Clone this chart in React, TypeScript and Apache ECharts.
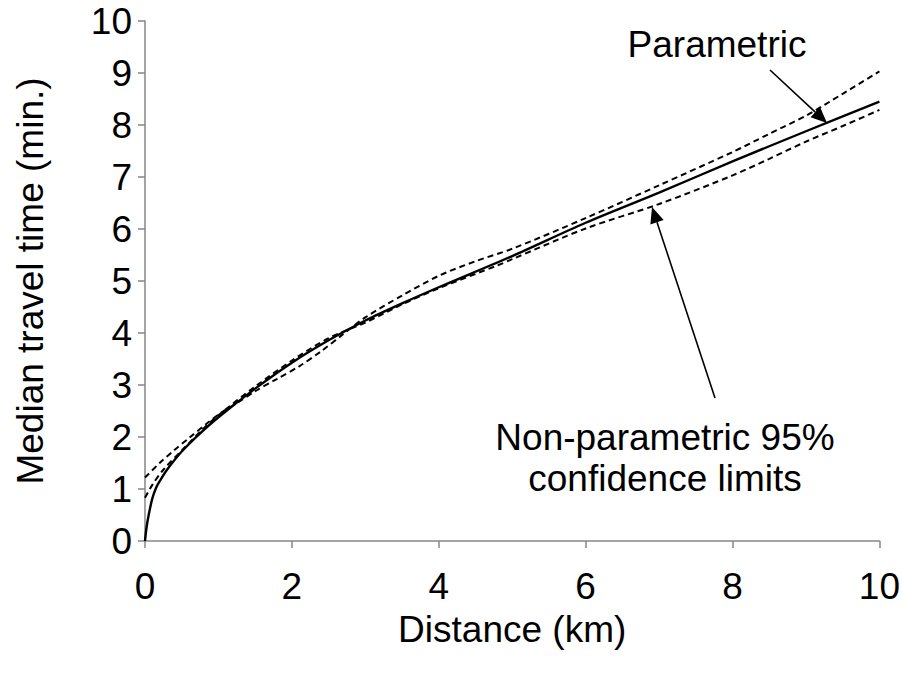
import React, { useEffect, useRef } from "react";
import * as echarts from "echarts";

const xTicks = [0, 2, 4, 6, 8, 10];
const yTicks = [0, 1, 2, 3, 4, 5, 6, 7, 8, 9, 10];

const parametricX = [0, 0.02, 0.05, 0.1, 0.15, 0.2, 0.3, 0.5, 0.75, 1, 1.5, 2, 2.5, 3, 3.5, 4, 5, 6, 7, 8, 9, 10];
const parametricY = [0, 0.25, 0.5, 0.82, 1.02, 1.15, 1.37, 1.72, 2.07, 2.38, 2.93, 3.43, 3.86, 4.24, 4.57, 4.88, 5.48, 6.12, 6.7, 7.3, 7.88, 8.45];

const limitAX = [0, 0.2, 0.4, 0.6, 0.85, 1.05, 1.25, 1.5, 1.8, 2.1, 2.4, 2.7, 3, 3.5, 4, 4.5, 5, 6, 7, 8, 8.5, 9, 9.5, 10];
const limitAY = [1.22, 1.5, 1.75, 1.98, 2.27, 2.48, 2.65, 2.88, 3.12, 3.36, 3.65, 3.98, 4.3, 4.72, 5.1, 5.38, 5.62, 6.21, 6.84, 7.48, 7.83, 8.18, 8.6, 9.03];

const limitBX = [0, 0.1, 0.25, 0.5, 0.75, 1, 1.5, 2, 2.5, 3, 3.5, 4, 4.8, 5, 6, 7, 8, 8.5, 9, 9.5, 10];
const limitBY = [0.83, 1.08, 1.37, 1.74, 2.1, 2.42, 2.97, 3.47, 3.9, 4.2, 4.55, 4.86, 5.3, 5.42, 6.01, 6.48, 7.03, 7.35, 7.68, 7.98, 8.29];

const xTitle = "Distance (km)";
const yTitle = "Median travel time (min.)";
const labelParametric = "Parametric";
const labelNonParametric = ["Non-parametric 95%", "confidence limits"];

const FONT = "'Liberation Sans', Arial, sans-serif";
const FS = 37;

function zip(xs: number[], ys: number[]) {
  return xs.map((x, i) => [x, ys[i]]);
}

function arrow(x1: number, y1: number, x2: number, y2: number, len: number, half: number) {
  const dx = x2 - x1;
  const dy = y2 - y1;
  const d = Math.sqrt(dx * dx + dy * dy);
  const ux = dx / d;
  const uy = dy / d;
  const bx = x2 - ux * len;
  const by = y2 - uy * len;
  return [
    { type: "line", shape: { x1, y1, x2: bx, y2: by }, style: { stroke: "#000", lineWidth: 1.6 } },
    {
      type: "polygon",
      shape: { points: [[x2, y2], [bx - uy * half, by + ux * half], [bx + uy * half, by - ux * half]] },
      style: { fill: "#000" },
    },
  ];
}

export default function App() {
  const ref = useRef<HTMLDivElement>(null);
  useEffect(() => {
    document.body.style.margin = "0";
    const chart = echarts.init(ref.current!, undefined, { renderer: "svg" });
    const dashStyle = { color: "#000", width: 2, type: [6, 4] as any };
    chart.setOption({
      animation: false,
      backgroundColor: "#fff",
      grid: { left: 145, right: 23, top: 21, bottom: 133 },
      xAxis: {
        type: "value",
        min: 0,
        max: 10,
        interval: 2,
        name: xTitle,
        nameLocation: "middle",
        nameGap: 70,
        nameTextStyle: { fontFamily: FONT, fontSize: FS, color: "#000" },
        axisLine: { show: true, lineStyle: { color: "#868686", width: 1.5 } },
        axisTick: { show: true, length: 7, lineStyle: { color: "#868686", width: 1.5 } },
        axisLabel: { fontFamily: FONT, fontSize: FS, color: "#000", margin: 27 },
        splitLine: { show: false },
      },
      yAxis: {
        type: "value",
        min: 0,
        max: 10,
        interval: 1,
        name: yTitle,
        nameLocation: "middle",
        nameGap: 96,
        nameTextStyle: { fontFamily: FONT, fontSize: FS, color: "#000" },
        axisLine: { show: true, lineStyle: { color: "#868686", width: 1.5 } },
        axisTick: { show: true, length: 7, lineStyle: { color: "#868686", width: 1.5 } },
        axisLabel: { fontFamily: FONT, fontSize: FS, color: "#000", margin: 13 },
        splitLine: { show: false },
      },
      series: [
        {
          name: "Parametric",
          type: "line",
          data: zip(parametricX, parametricY),
          showSymbol: false,
          smooth: 0.3,
          lineStyle: { color: "#000", width: 2.4 },
          z: 3,
        },
        {
          name: "Limit A",
          type: "line",
          data: zip(limitAX, limitAY),
          showSymbol: false,
          smooth: 0.3,
          lineStyle: dashStyle,
        },
        {
          name: "Limit B",
          type: "line",
          data: zip(limitBX, limitBY),
          showSymbol: false,
          smooth: 0.3,
          lineStyle: dashStyle,
        },
      ],
      graphic: [
        {
          type: "text",
          x: 717,
          y: 44,
          style: { text: labelParametric, font: `${FS}px ${FONT}`, fill: "#000", textAlign: "center", textVerticalAlign: "middle" },
        },
        {
          type: "text",
          x: 665,
          y: 437,
          style: { text: labelNonParametric[0], font: `${FS}px ${FONT}`, fill: "#000", textAlign: "center", textVerticalAlign: "middle" },
        },
        {
          type: "text",
          x: 665,
          y: 478,
          style: { text: labelNonParametric[1], font: `${FS}px ${FONT}`, fill: "#000", textAlign: "center", textVerticalAlign: "middle" },
        },
        ...arrow(770, 70, 827, 123, 16, 7),
        ...arrow(715, 398, 652, 207, 16, 7),
      ],
    });
    return () => chart.dispose();
  }, []);
  return <div ref={ref} style={{ width: 903, height: 674 }} />;
}
